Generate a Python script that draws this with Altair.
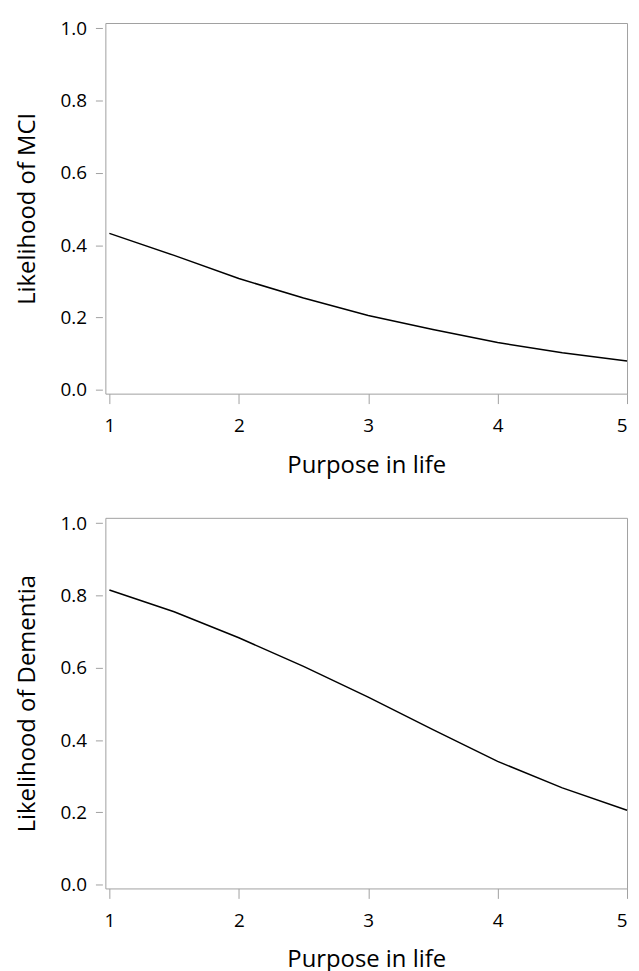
import altair as alt
import pandas as pd

purpose = [1.0, 1.5, 2.0, 2.5, 3.0, 3.5, 4.0, 4.5, 5.0]
mci = [0.433, 0.372, 0.308, 0.254, 0.206, 0.167, 0.131, 0.103, 0.080]
dementia = [0.815, 0.755, 0.683, 0.604, 0.519, 0.429, 0.341, 0.268, 0.206]

x_ticks = [1, 2, 3, 4, 5]
y_ticks = [0.0, 0.2, 0.4, 0.6, 0.8, 1.0]

FONT = "Open Sans"
GREY = "#a0a0a0"


def panel(values, ytitle):
    df = pd.DataFrame({"purpose": purpose, "value": values})
    return alt.Chart(df).mark_line(color="black", strokeWidth=1.5).encode(
        x=alt.X("purpose:Q",
                scale=alt.Scale(domain=[0.969, 5.0], nice=False, zero=False),
                axis=alt.Axis(values=x_ticks, format="d", title="Purpose in life",
                              domain=False, tickSize=10, labelPadding=13,
                              titlePadding=18, labelFlush=True)),
        y=alt.Y("value:Q",
                scale=alt.Scale(domain=[-0.0102, 1.0145], nice=False, zero=False),
                axis=alt.Axis(values=y_ticks, format=".1f", title=ytitle,
                              domain=False, tickSize=7, offset=3, labelPadding=9,
                              titlePadding=21, labelFlush=False)),
    ).properties(width=525, height=373)


chart = alt.vconcat(
    panel(mci, "Likelihood of MCI"),
    panel(dementia, "Likelihood of Dementia"),
    spacing=35,
).properties(
    padding={"left": 6, "top": 7, "right": 0, "bottom": 0}
).configure_view(
    stroke=GREY, strokeWidth=1
).configure_axis(
    grid=False, tickColor=GREY, tickWidth=1,
    labelFont=FONT, labelFontSize=19, labelColor="black",
    titleFont=FONT, titleFontSize=24, titleFontWeight="normal", titleColor="black",
    labelOverlap=False,
)

chart.save("out.html", embed_options={"renderer": "svg", "actions": False})
